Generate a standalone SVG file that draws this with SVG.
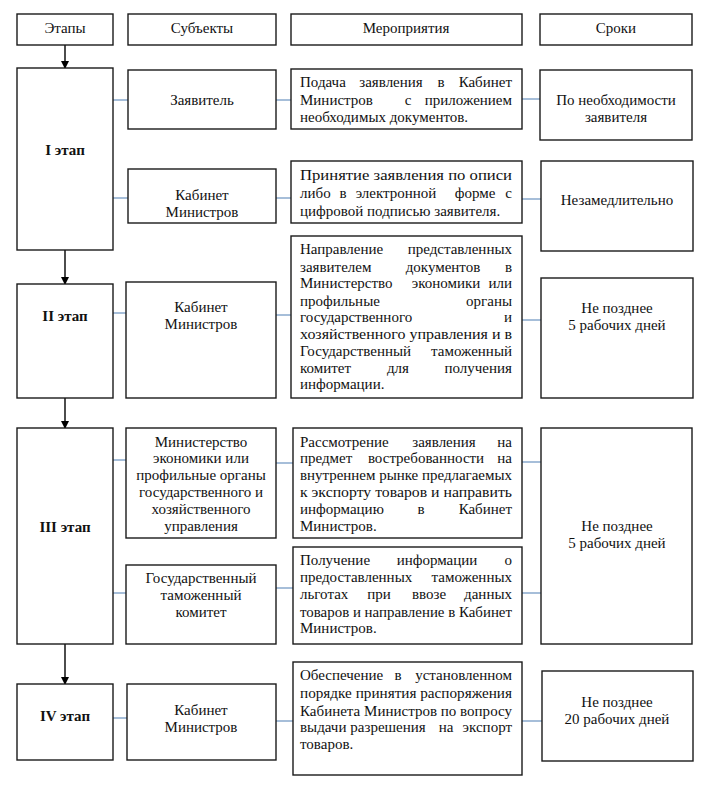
<svg xmlns="http://www.w3.org/2000/svg" width="707" height="791" viewBox="0 0 707 791">
<defs>
<marker id="ah" markerWidth="8" markerHeight="8" refX="7" refY="4" orient="auto" markerUnits="userSpaceOnUse">
<path d="M0,0 L8,4 L0,8 z" fill="#000"/>
</marker>
<style>
rect{fill:#fff;stroke:#1a1a1a;stroke-width:1.4}
text{font-family:'Liberation Serif','Times New Roman',serif;font-size:15px;fill:#111}
.c{text-anchor:middle}
.e{text-anchor:end}
.b{font-weight:bold}
.ln{stroke:#4f7fb3;stroke-width:1.2;fill:none}
.ar{stroke:#000;stroke-width:1.4;fill:none;marker-end:url(#ah)}
</style>
</defs>
<rect width="707" height="791" style="fill:#fff;stroke:none"/>

<g id="connectors">
<line class="ar" x1="65" y1="45" x2="65" y2="68"/>
<line class="ar" x1="65" y1="250" x2="65" y2="284"/>
<line class="ar" x1="65" y1="398" x2="65" y2="428"/>
<line class="ar" x1="65" y1="644" x2="65" y2="684"/>
<path class="ln" d="M113,100H128M276,100H291M522,99H540"/>
<path class="ln" d="M113,198H128M276,198H291M522,199H541"/>
<path class="ln" d="M113,313H126M276,315H291M522,320H541"/>
<path class="ln" d="M113,460H126M276,463H293M522,462H541"/>
<path class="ln" d="M113,593H126M276,588H293M522,593H541"/>
<path class="ln" d="M113,718H127M276,721H293M522,721H542"/>
</g>

<g id="h-etapy"><rect x="17" y="14" width="96" height="31"/><text class="c" x="65" y="33">Этапы</text></g>
<g id="h-subjekty"><rect x="128" y="14" width="148" height="31"/><text class="c" x="202" y="33">Субъекты</text></g>
<g id="h-meropriyatiya"><rect x="291" y="14" width="231" height="31"/><text class="c" x="406" y="33">Мероприятия</text></g>
<g id="h-sroki"><rect x="540" y="14" width="152" height="31"/><text class="c" x="616" y="33">Сроки</text></g>

<g id="stage1"><rect x="17" y="68" width="96" height="182"/><text class="c b" x="65" y="155">I этап</text></g>
<g id="s1-zayavitel"><rect x="128" y="70" width="148" height="59"/><text class="c" x="202" y="105">Заявитель</text></g>
<g id="m1-podacha"><rect x="291" y="69" width="231" height="60"/>
<text x="300" y="87">Подача</text><text class="c" x="391" y="87">заявления</text><text class="c" x="441" y="87">в</text><text class="e" x="512" y="87">Кабинет</text>
<text x="300" y="105">Министров</text><text class="c" x="408" y="105">с</text><text class="e" x="512" y="105">приложением</text>
<text x="300" y="122">необходимых документов.</text>
</g>
<g id="t1-neobh"><rect x="540" y="70" width="152" height="70"/><text class="c" x="616" y="105">По необходимости</text><text class="c" x="616" y="122">заявителя</text></g>

<g id="s1-kabmin"><rect x="128" y="169" width="148" height="54"/><text class="c" x="202" y="200">Кабинет</text><text class="c" x="202" y="217">Министров</text></g>
<g id="m1-prinyatie"><rect x="291" y="161" width="231" height="62"/>
<text x="300" y="180" textLength="212" lengthAdjust="spacingAndGlyphs">Принятие заявления по описи</text>
<text x="300" y="198">либо</text><text class="c" x="343" y="198">в</text><text class="c" x="396" y="198">электронной</text><text class="c" x="475" y="198">форме</text><text class="e" x="512" y="198">с</text>
<text x="300" y="216">цифровой подписью заявителя.</text>
</g>
<g id="t1-nezamed"><rect x="541" y="161" width="152" height="90"/><text class="c" x="617" y="205">Незамедлительно</text></g>

<g id="stage2"><rect x="17" y="284" width="96" height="114"/><text class="c b" x="65" y="321">II этап</text></g>
<g id="s2-kabmin"><rect x="126" y="282" width="150" height="116"/><text class="c" x="201" y="312">Кабинет</text><text class="c" x="201" y="329">Министров</text></g>
<g id="m2-napravlenie"><rect x="291" y="236" width="231" height="162"/>
<text x="300" y="254">Направление</text><text class="e" x="512" y="254">представленных</text>
<text x="300" y="272">заявителем</text><text class="c" x="443" y="272">документов</text><text class="e" x="512" y="272">в</text>
<text x="300" y="288">Министерство</text><text class="c" x="446" y="288">экономики</text><text class="e" x="512" y="288">или</text>
<text x="300" y="306">профильные</text><text class="e" x="512" y="306">органы</text>
<text x="300" y="322">государственного</text><text class="e" x="512" y="322">и</text>
<text x="300" y="339" textLength="212" lengthAdjust="spacingAndGlyphs">хозяйственного управления и в</text>
<text x="300" y="356">Государственный</text><text class="e" x="512" y="356">таможенный</text>
<text x="300" y="373">комитет</text><text class="c" x="398" y="373">для</text><text class="e" x="512" y="373">получения</text>
<text x="300" y="389">информации.</text>
</g>
<g id="t2-5dney"><rect x="541" y="278" width="152" height="120"/><text class="c" x="617" y="313">Не позднее</text><text class="c" x="617" y="330">5 рабочих дней</text></g>

<g id="stage3"><rect x="17" y="428" width="96" height="216"/><text class="c b" x="65" y="532">III этап</text></g>
<g id="s3-minekon"><rect x="126" y="428" width="150" height="110"/>
<text class="c" x="201" y="447">Министерство</text><text class="c" x="201" y="463">экономики или</text><text class="c" x="201" y="480">профильные органы</text><text class="c" x="201" y="497">государственного и</text><text class="c" x="201" y="514">хозяйственного</text><text class="c" x="201" y="531">управления</text>
</g>
<g id="m3-rassmotrenie"><rect x="293" y="428" width="229" height="110"/>
<text x="300" y="447">Рассмотрение</text><text class="c" x="444" y="447">заявления</text><text class="e" x="512" y="447">на</text>
<text x="300" y="463">предмет</text><text class="c" x="426" y="463">востребованности</text><text class="e" x="512" y="463">на</text>
<text x="300" y="480" textLength="212" lengthAdjust="spacingAndGlyphs">внутреннем рынке предлагаемых</text>
<text x="300" y="497" textLength="212" lengthAdjust="spacingAndGlyphs">к экспорту товаров и направить</text>
<text x="300" y="514">информацию</text><text class="c" x="421" y="514">в</text><text class="e" x="512" y="514">Кабинет</text>
<text x="300" y="531">Министров.</text>
</g>
<g id="s3-gtk"><rect x="126" y="565" width="150" height="79"/>
<text class="c" x="201" y="583">Государственный</text><text class="c" x="201" y="600">таможенный</text><text class="c" x="201" y="617">комитет</text>
</g>
<g id="m3-poluchenie"><rect x="293" y="547" width="229" height="97"/>
<text x="300" y="565">Получение</text><text class="c" x="437" y="565">информации</text><text class="e" x="512" y="565">о</text>
<text x="300" y="582">предоставленных</text><text class="e" x="512" y="582">таможенных</text>
<text x="300" y="599">льготах</text><text class="c" x="379" y="599">при</text><text class="c" x="429" y="599">ввозе</text><text class="e" x="512" y="599">данных</text>
<text x="300" y="617" textLength="212" lengthAdjust="spacingAndGlyphs">товаров и направление в Кабинет</text>
<text x="300" y="633">Министров.</text>
</g>
<g id="t3-5dney"><rect x="541" y="428" width="151" height="216"/><text class="c" x="617" y="531">Не позднее</text><text class="c" x="617" y="548">5 рабочих дней</text></g>

<g id="stage4"><rect x="17" y="684" width="96" height="76"/><text class="c b" x="65" y="721">IV этап</text></g>
<g id="s4-kabmin"><rect x="127" y="684" width="149" height="76"/><text class="c" x="201" y="715">Кабинет</text><text class="c" x="201" y="732">Министров</text></g>
<g id="m4-obespechenie"><rect x="293" y="662" width="229" height="113"/>
<text x="300" y="680">Обеспечение</text><text class="c" x="398" y="680">в</text><text class="e" x="512" y="680">установленном</text>
<text x="300" y="698" textLength="212" lengthAdjust="spacingAndGlyphs">порядке принятия распоряжения</text>
<text x="300" y="716" textLength="212" lengthAdjust="spacingAndGlyphs">Кабинета Министров по вопросу</text>
<text x="300" y="732">выдачи</text><text class="c" x="388" y="732">разрешения</text><text class="c" x="446" y="732">на</text><text class="e" x="512" y="732">экспорт</text>
<text x="300" y="749">товаров.</text>
</g>
<g id="t4-20dney"><rect x="542" y="671" width="151" height="90"/><text class="c" x="617" y="707">Не позднее</text><text class="c" x="617" y="724">20 рабочих дней</text></g>
</svg>
